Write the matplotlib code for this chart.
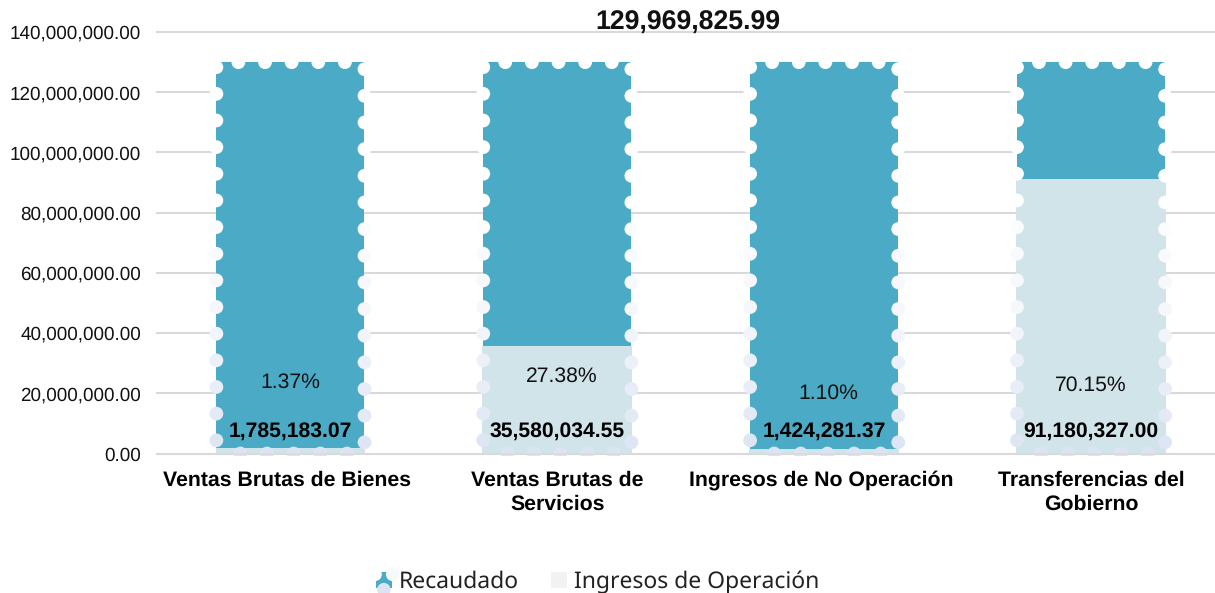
import numpy as np
import matplotlib
matplotlib.use("Agg")
import matplotlib.pyplot as plt
from matplotlib.colors import LinearSegmentedColormap
from matplotlib.legend_handler import HandlerBase
from matplotlib.patches import Circle, Rectangle

categories = ["Ventas Brutas de Bienes ", "Ventas Brutas de\nServicios",
              "Ingresos de No Operación ", "Transferencias del\nGobierno"]
ingresos_total = 129969825.99
recaudado = [1785183.07, 35580034.55, 1424281.37, 91180327.00]
porcentajes = ["1.37%", "27.38%", "1.10%", "70.15%"]
y_ticks = [0, 20000000, 40000000, 60000000, 80000000, 100000000, 120000000, 140000000]
series_names = ["Recaudado", "Ingresos de Operación"]

TEAL = "#4BABC6"
LIGHT = "#D1E4EA"
GRID = "#D9D9D9"
W, H = 1215, 593
plt.rcParams["font.family"] = ["Liberation Sans", "DejaVu Sans"]
plt.rcParams["text.hinting"] = "no_hinting"

# the white to lavender dots of the pattern fill
dots_cmap = LinearSegmentedColormap.from_list("dots", ["#DCE4F3", "#F4F6FB", "#FFFFFF"])


class PatternHandler(HandlerBase):
    """Legend key for the dotted teal fill."""
    def create_artists(self, legend, orig, x, y, width, height, fontsize, trans):
        r = height * 0.42
        x0 = x + width - height
        box = Rectangle((x0, y), height, height, fc=TEAL, ec="none", transform=trans)
        c1 = Circle((x0 - 0.05 * height, y + height * 0.85), r, fc="white", ec="none", transform=trans)
        c2 = Circle((x0 + 1.05 * height, y + height * 0.85), r, fc="#F6F8FC", ec="none", transform=trans)
        c3 = Circle((x0 + 0.5 * height, y - 0.1 * height), r, fc="#DCE4F3", ec="none", transform=trans)
        return [box, c1, c2, c3]


fig = plt.figure(figsize=(W / 100, H / 100), dpi=100)
ax = fig.add_axes([157 / W, 1 - 453.5 / H, 1067.5 / W, 421.5 / H])

x = np.arange(len(categories))
bar_w = 0.555
px = 140000000 / 421.5  # value of one pixel on the y axis

ax.bar(x, ingresos_total, width=bar_w, color=TEAL, zorder=2)
ax.bar(x, recaudado, width=bar_w + 0.006, color=LIGHT, zorder=3)

# dots along the edges of every bar
pitch_y = 26.65 * px
pitch_x = 26.65 / 267
for xc, val in zip(x, recaudado):
    left, right = xc - bar_w / 2, xc + bar_w / 2
    y_left = ingresos_total - 5 * px - np.arange(15) * pitch_y
    y_right = ingresos_total - 7 * px - np.arange(15) * pitch_y
    x_top = left + 22 / 267 + np.arange(5) * pitch_x
    x_bot = left + 24 / 267 + np.arange(5) * pitch_x
    xs = np.concatenate([np.full(15, left), np.full(15, right), x_top, x_bot])
    ys = np.concatenate([y_left, y_right, np.full(5, ingresos_total), np.full(5, 0.0)])
    dots = ax.scatter(xs, ys, s=98, c=ys, cmap=dots_cmap, vmin=0, vmax=ingresos_total * 0.7,
                      linewidths=0, zorder=4, clip_on=True)
    dots.set_clip_path(Rectangle((left - 0.05, -2.6 * px), bar_w + 0.1, 450 * px,
                                 transform=ax.transData))

ax.axhline(0, color=GRID, lw=1.4, alpha=0.7, zorder=5, clip_on=False)

# labels inside the bars, offsets measured from the baseline
pct_off = [71, 77, 60, 68]
pct_shift = [0, 4, 4, 0]
for xc, val, pct, off, dx in zip(x, recaudado, porcentajes, pct_off, pct_shift):
    ax.annotate(f"{val:,.2f}", (xc, 0), xytext=(0, 22 * 0.72), textcoords="offset points",
                ha="center", va="center", fontsize=15.2, fontweight="bold", color="black", zorder=6)
    ax.annotate(pct, (xc, 0), xytext=(dx * 0.72, off * 0.72), textcoords="offset points",
                ha="center", va="center", fontsize=15.2, color="#111111", zorder=6)

fig.text(687.5 / W, 1 - 22.5 / H, f"{ingresos_total:,.2f}", ha="center", va="center",
         fontsize=19.2, fontweight="bold", color="#111111")

ax.set_xlim(-0.5, 3.5)
ax.set_ylim(0, 140000000)
ax.set_yticks(y_ticks)
ax.set_yticklabels([f"{v:,.2f}" for v in y_ticks], fontsize=13.6, color="#111111")
ax.set_xticks(x)
ax.set_xticklabels(categories, fontsize=15.3, fontweight="bold", color="black", linespacing=1.3)
ax.tick_params(axis="y", length=0, pad=11.5)
ax.tick_params(axis="x", length=0, pad=12)
ax.grid(axis="y", color=GRID, lw=1.5, zorder=1)
for line in ax.get_ygridlines():
    line.set_clip_on(False)
ax.set_axisbelow(True)
for s in ax.spines.values():
    s.set_visible(False)

h1 = Rectangle((0, 0), 1, 1, fc=TEAL)
h2 = Rectangle((0, 0), 1, 1, fc="#F2F2F2", ec="none")
fig.legend([h1, h2], series_names, loc="center", bbox_to_anchor=(597.5 / W, 1 - 582 / H),
           ncol=2, frameon=False, handler_map={h1: PatternHandler()},
           prop={"family": "Noto Sans", "size": 16.5}, labelcolor="#222222",
           handlelength=0.7, handleheight=0.7, handletextpad=0.3, columnspacing=1.4)

fig.savefig("out.png", dpi=100)
